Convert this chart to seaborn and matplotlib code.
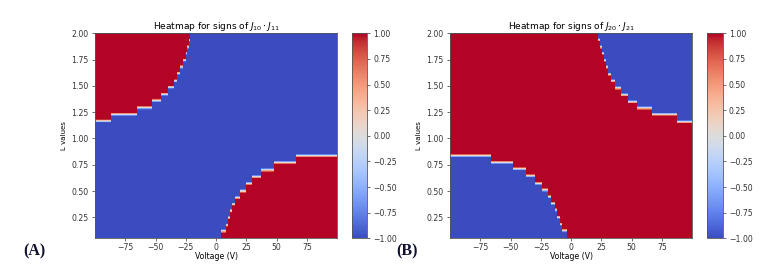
import numpy as np
import matplotlib
matplotlib.use('Agg')
import matplotlib.pyplot as plt
import matplotlib.ticker as mticker
import seaborn as sns

# axis ranges
V_MIN, V_MAX = -100.0, 100.0
L_MIN, L_MAX = 0.05, 2.0

# Panel A (J10*J11): red above the upper-left staircase (V = right end of each step)
A_up_V = [-86.5, -65.4, -53.1, -45.5, -39.4, -35.1, -32.0, -29.3, -27.1, -25.2, -23.8, -22.7, -21.7]
A_up_L = [1.168, 1.229, 1.292, 1.362, 1.42, 1.486, 1.549, 1.62, 1.68, 1.746, 1.81, 1.87, 1.936]
# red below the lower-right staircase (V = left start of each step)
A_lo_V = [3.8, 8.2, 9.8, 11.5, 13.6, 16.1, 19.4, 24.3, 30.0, 37.2, 48.1, 65.9]
A_lo_L = [0.12, 0.177, 0.247, 0.313, 0.377, 0.437, 0.50, 0.573, 0.636, 0.70, 0.773, 0.836]

# Panel B (J20*J21): blue below the lower-left staircase (V = right end of each step)
B_lo_V = [-65.9, -48.0, -36.9, -29.4, -23.9, -19.5, -16.5, -13.7, -11.5, -9.5, -7.6, -3.5]
B_lo_L = [0.836, 0.773, 0.71, 0.645, 0.573, 0.51, 0.446, 0.383, 0.32, 0.25, 0.186, 0.123]
# blue above the upper-right staircase (V = left start of each step)
B_up_V = [22.5, 23.9, 25.5, 27.2, 28.8, 30.7, 33.0, 36.3, 41.0, 46.8, 54.3, 67.2, 87.4]
B_up_L = [1.94, 1.87, 1.81, 1.745, 1.68, 1.61, 1.55, 1.48, 1.415, 1.35, 1.29, 1.23, 1.16]

x_ticks = [-75, -50, -25, 0, 25, 50, 75]
y_ticks = [0.25, 0.50, 0.75, 1.00, 1.25, 1.50, 1.75, 2.00]
cbar_ticks = [-1.0, -0.75, -0.5, -0.25, 0.0, 0.25, 0.5, 0.75, 1.0]

# fine grid, rows top (L=2) -> bottom (L=0.05) as heatmap draws them
nV, nL = 400, 390
Vc = V_MIN + (np.arange(nV) + 0.5) * (V_MAX - V_MIN) / nV
Lc = L_MAX - (np.arange(nL) + 0.5) * (L_MAX - L_MIN) / nL
VV, LL = np.meshgrid(Vc, Lc)
BLUR = 0.016  # half-width of the interpolated colour band at each step


def level_right_end(edges, levels, v, empty):
    k = np.searchsorted(edges, v, side='right')
    lv = np.full(v.shape, empty)
    ok = k < len(edges)
    lv[ok] = np.asarray(levels)[k[ok]]
    return lv


def level_left_start(edges, levels, v, empty):
    k = np.searchsorted(edges, v, side='right') - 1
    lv = np.full(v.shape, empty)
    ok = k >= 0
    lv[ok] = np.asarray(levels)[k[ok]]
    return lv


def ramp(d):
    return np.clip(d / BLUR, -1, 1)


up = level_right_end(A_up_V, A_up_L, VV, 10.0)
lo = level_left_start(A_lo_V, A_lo_L, VV, -10.0)
signs_A = np.maximum(ramp(LL - up), ramp(lo - LL))

lo = level_right_end(B_lo_V, B_lo_L, VV, -10.0)
up = level_left_start(B_up_V, B_up_L, VV, 10.0)
signs_B = np.minimum(ramp(LL - lo), ramp(up - LL))

fig = plt.figure(figsize=(7.84, 2.66), dpi=100)
axA = fig.add_axes([0.1212, 0.1041, 0.3087, 0.7707])
cA = fig.add_axes([0.4486, 0.1041, 0.0199, 0.7707])
axB = fig.add_axes([0.574, 0.1041, 0.309, 0.7707])
cB = fig.add_axes([0.9022, 0.1041, 0.0196, 0.7707])

fmt = mticker.FuncFormatter(lambda x, p: f"{x:.2f}".replace('-', '\u2212'))

panels = [
    (axA, cA, signs_A, r"Heatmap for signs of $J_{10} \cdot J_{11}$", "(A)", 0.030),
    (axB, cB, signs_B, r"Heatmap for signs of $J_{20} \cdot J_{21}$", "(B)", 0.506),
]

for ax, cax, grid, title, tag, tag_x in panels:
    sns.heatmap(grid, ax=ax, cbar_ax=cax, cmap='coolwarm', vmin=-1, vmax=1,
                xticklabels=False, yticklabels=False,
                cbar_kws={'ticks': cbar_ticks, 'format': fmt})
    ax.set_xticks([(v - V_MIN) / (V_MAX - V_MIN) * nV for v in x_ticks])
    ax.set_xticklabels([f"{v}".replace('-', '\u2212') for v in x_ticks])
    ax.set_yticks([(L_MAX - l) / (L_MAX - L_MIN) * nL for l in y_ticks])
    ax.set_yticklabels([f"{l:.2f}" for l in y_ticks])
    ax.tick_params(labelsize=5.6, length=2.5, width=0.5, pad=2, colors='#333333')
    ax.tick_params(axis='x', pad=1)
    ax.tick_params(axis='y', rotation=0)
    for s in ax.spines.values():
        s.set_visible(True)
        s.set_linewidth(0.6)
        s.set_color('#555555')
    ax.set_title(title, fontsize=6.5, pad=2)
    ax.set_xlabel("Voltage (V)", fontsize=5.6, labelpad=0)
    ax.set_ylabel("L values", fontsize=5, labelpad=3)
    cb = ax.collections[0].colorbar
    cb.outline.set_linewidth(0.6)
    cb.outline.set_edgecolor('#555555')
    cb.ax.tick_params(labelsize=5.6, length=2.5, width=0.5, pad=2, colors='#333333')
    fig.text(tag_x, 0.04, tag, fontsize=11.5, fontweight='bold',
             family='Liberation Serif', color='#101030')

fig.savefig('out.png', dpi=100)
